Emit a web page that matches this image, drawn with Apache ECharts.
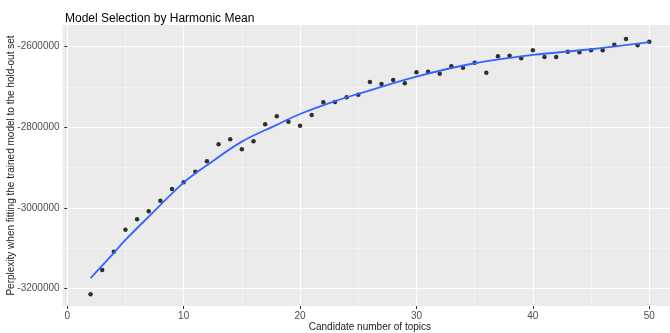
<!DOCTYPE html>
<html><head><meta charset="utf-8">
<script src="https://cdn.jsdelivr.net/npm/echarts@6/dist/echarts.min.js"></script>
<style>html,body{margin:0;padding:0;background:#fff}#c{width:670px;height:333px}</style>
</head><body><div id="c"></div>
<script>
const topics = [2,3,4,5,6,7,8,9,10,11,12,13,14,15,16,17,18,19,20,21,22,23,24,25,26,27,28,29,30,31,32,33,34,35,36,37,38,39,40,41,42,43,44,45,46,47,48,49,50];
const perplexity = [-3214800,-3154400,-3109000,-3054300,-3028500,-3008600,-2982300,-2953200,-2936600,-2910300,-2884400,-2842200,-2829800,-2854600,-2834700,-2792500,-2772600,-2786100,-2796000,-2769400,-2737900,-2737000,-2725400,-2719000,-2687400,-2692400,-2682500,-2690700,-2663300,-2661900,-2666800,-2648400,-2651900,-2639500,-2664300,-2623600,-2622100,-2628600,-2608700,-2625300,-2625300,-2612200,-2613700,-2608700,-2608700,-2594800,-2580600,-2596300,-2587300];
const smoothTopics = [2,4,5,7,10,12,15,18,20,23,25,30,35,40,45,50];
const smoothValues = [-3175000,-3112000,-3080000,-3022000,-2937600,-2894400,-2835700,-2794000,-2767000,-2735000,-2717200,-2674200,-2641000,-2620400,-2606200,-2588800];
const xTickValues = [0,10,20,30,40,50];
const xMinorValues = [5,15,25,35,45];
const yTickValues = [-3200000,-3000000,-2800000,-2600000];
const yMinorValues = [-3100000,-2900000,-2700000];
const titleText = 'Model Selection by Harmonic Mean';
const xName = 'Candidate number of topics';
const yName = 'Perplexity when fitting the trained model to the hold-out set';

const chart = echarts.init(document.getElementById('c'), null, {renderer:'canvas'});
const font = '"Liberation Sans", Arial, sans-serif';
const xr = {min:-0.4, max:52.4};
const yr = {min:-3244000, max:-2546000};
const plain = v => String(v);
chart.setOption({
  animation:false,
  backgroundColor:'#fff',
  textStyle:{fontFamily:font},
  title:{text:titleText, left:60, top:8, textStyle:{fontFamily:font, fontSize:12, fontWeight:'normal', color:'#000'}},
  grid:{left:62.6, top:25, width:614.6, height:281, show:true, backgroundColor:'#EBEBEB', borderWidth:0, containLabel:false, outerBoundsMode:'none'},
  xAxis:[
    {type:'value', ...xr, position:'bottom',
     name:xName, nameLocation:'middle', nameGap:16, nameMoveOverlap:false, nameTextStyle:{fontFamily:font, fontSize:10, color:'#222'},
     axisLine:{show:false},
     axisTick:{show:true, length:3, customValues:xTickValues, lineStyle:{color:'#333', width:1}},
     axisLabel:{customValues:xTickValues, formatter:plain, color:'#4D4D4D', fontSize:10, margin:5, fontFamily:font},
     splitLine:{show:true, lineStyle:{color:'#FFFFFF', width:1.1}}},
    {type:'value', ...xr, position:'bottom',
     axisLine:{show:false},
     axisTick:{show:false, customValues:xMinorValues},
     axisLabel:{show:false, customValues:xMinorValues},
     splitLine:{show:true, lineStyle:{color:'#F5F5F5', width:0.8}}}
  ],
  yAxis:[
    {type:'value', ...yr, position:'left',
     name:yName, nameLocation:'middle', nameGap:46, nameMoveOverlap:false, nameTextStyle:{fontFamily:font, fontSize:10, color:'#222'},
     axisLine:{show:false},
     axisTick:{show:true, length:3, customValues:yTickValues, lineStyle:{color:'#333', width:1}},
     axisLabel:{customValues:yTickValues, formatter:plain, color:'#4D4D4D', fontSize:10, margin:3, fontFamily:font},
     splitLine:{show:true, lineStyle:{color:'#FFFFFF', width:1.1}}},
    {type:'value', ...yr, position:'left',
     axisLine:{show:false},
     axisTick:{show:false, customValues:yMinorValues},
     axisLabel:{show:false, customValues:yMinorValues},
     splitLine:{show:true, lineStyle:{color:'#F5F5F5', width:0.8}}}
  ],
  series:[
    {type:'scatter', xAxisIndex:0, yAxisIndex:0, symbolSize:4.5,
     itemStyle:{color:'#000'}, data:topics.map((t,i)=>[t, perplexity[i]]), z:3},
    {type:'line', xAxisIndex:0, yAxisIndex:0, smooth:0.35, showSymbol:false,
     lineStyle:{color:'#3366FF', width:1.8}, data:smoothTopics.map((t,i)=>[t, smoothValues[i]]), z:4}
  ]
});
</script></body></html>
